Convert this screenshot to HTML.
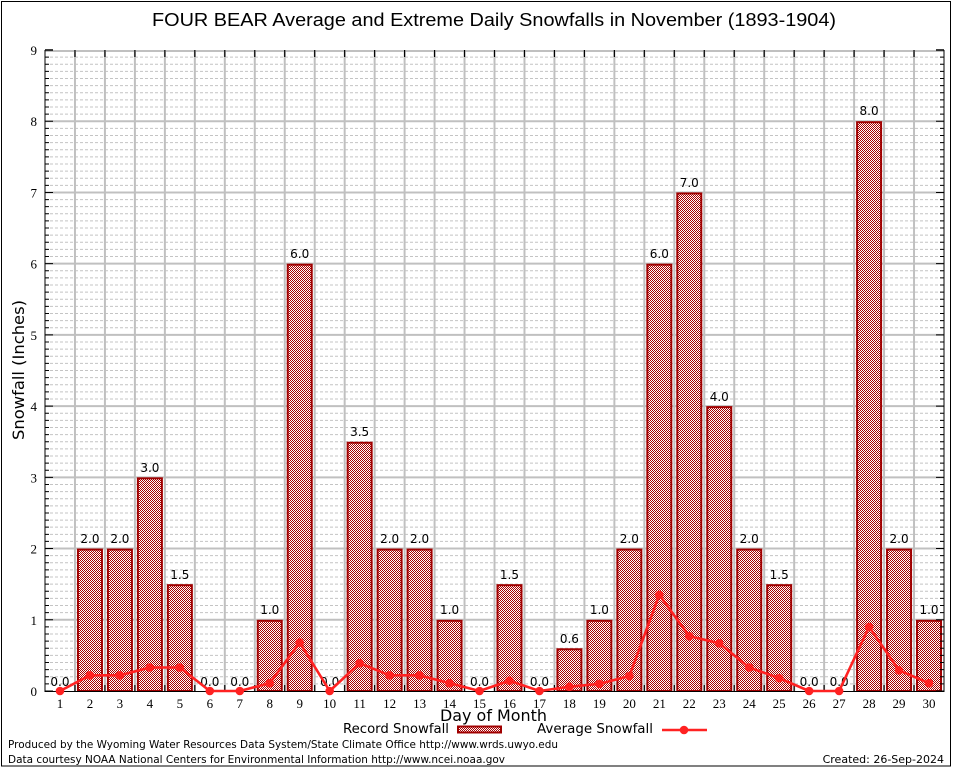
<!DOCTYPE html>
<html><head><meta charset="utf-8"><style>
html,body{margin:0;padding:0;background:#fff;}
svg{display:block;}
.v{font-family:"DejaVu Sans","Liberation Sans",sans-serif;font-size:12px;fill:#000;text-anchor:middle;}
.t{font-family:"Liberation Serif","DejaVu Serif",serif;font-size:13px;fill:#000;}
.s{font-family:"DejaVu Sans","Liberation Sans",sans-serif;fill:#000;}
</style></head><body>
<svg width="954" height="768" viewBox="0 0 954 768" xmlns="http://www.w3.org/2000/svg" shape-rendering="auto">
<defs>
<pattern id="chk" width="2" height="2" patternUnits="userSpaceOnUse">
<rect width="2" height="2" fill="#fff"/><rect width="1" height="1" fill="#a80000"/><rect x="1" y="1" width="1" height="1" fill="#a80000"/>
</pattern>
<g id="unit">
<path d="M45 683.88H944M45 676.76H944M45 669.63H944M45 662.51H944M45 655.39H944M45 648.27H944M45 641.14H944M45 634.02H944M45 626.9H944" stroke="#c4c4c4" stroke-width="1" stroke-dasharray="3 2" fill="none"/>
</g>
<g id="tk">
<path d="M45 683.88h4M45 676.76h4M45 669.63h4M45 662.51h4M45 655.39h4M45 648.27h4M45 641.14h4M45 634.02h4M45 626.9h4M944 683.88h-4M944 676.76h-4M944 669.63h-4M944 662.51h-4M944 655.39h-4M944 648.27h-4M944 641.14h-4M944 634.02h-4M944 626.9h-4M45 691h8M944 691h-8" stroke="#000" stroke-width="1" fill="none"/>
</g>
</defs>
<rect width="954" height="768" fill="#fff"/>
<rect x="1.5" y="1.5" width="949" height="764.5" fill="none" stroke="#000" stroke-width="1"/>

<text x="494" y="26" font-family="Liberation Sans, Arial, sans-serif" font-size="18.5" text-anchor="middle" textLength="684" lengthAdjust="spacingAndGlyphs">FOUR BEAR Average and Extreme Daily Snowfalls in November (1893-1904)</text>

<!-- minor grid -->
<use href="#unit" y="0"/><use href="#unit" y="-71.222"/><use href="#unit" y="-142.444"/><use href="#unit" y="-213.667"/><use href="#unit" y="-284.889"/><use href="#unit" y="-356.111"/><use href="#unit" y="-427.333"/><use href="#unit" y="-498.556"/><use href="#unit" y="-569.778"/>
<!-- major horizontal grid -->
<path d="M45 619.78H944M45 548.56H944M45 477.33H944M45 406.11H944M45 334.89H944M45 263.67H944M45 192.44H944M45 121.22H944M45 51H944" stroke="#c0c0c0" stroke-width="2" fill="none"/>
<!-- vertical grid -->
<path d="M74.97 50V691M104.93 50V691M134.9 50V691M164.87 50V691M194.83 50V691M224.8 50V691M254.77 50V691M284.73 50V691M314.7 50V691M344.67 50V691M374.63 50V691M404.6 50V691M434.57 50V691M464.53 50V691M494.5 50V691M524.47 50V691M554.43 50V691M584.4 50V691M614.37 50V691M644.33 50V691M674.3 50V691M704.27 50V691M734.23 50V691M764.2 50V691M794.17 50V691M824.13 50V691M854.1 50V691M884.07 50V691M914.03 50V691" stroke="#c0c0c0" stroke-width="2" fill="none"/>

<!-- bars -->
<g fill="url(#chk)" stroke="#a00000" stroke-width="2">
<rect x="77.95" y="549.56" width="24" height="141.44"/>
<rect x="107.92" y="549.56" width="24" height="141.44"/>
<rect x="137.88" y="478.33" width="24" height="212.67"/>
<rect x="167.85" y="585.17" width="24" height="105.83"/>
<rect x="257.75" y="620.78" width="24" height="70.22"/>
<rect x="287.72" y="264.67" width="24" height="426.33"/>
<rect x="347.65" y="442.72" width="24" height="248.28"/>
<rect x="377.62" y="549.56" width="24" height="141.44"/>
<rect x="407.58" y="549.56" width="24" height="141.44"/>
<rect x="437.55" y="620.78" width="24" height="70.22"/>
<rect x="497.48" y="585.17" width="24" height="105.83"/>
<rect x="557.42" y="649.27" width="24" height="41.73"/>
<rect x="587.38" y="620.78" width="24" height="70.22"/>
<rect x="617.35" y="549.56" width="24" height="141.44"/>
<rect x="647.32" y="264.67" width="24" height="426.33"/>
<rect x="677.28" y="193.44" width="24" height="497.56"/>
<rect x="707.25" y="407.11" width="24" height="283.89"/>
<rect x="737.22" y="549.56" width="24" height="141.44"/>
<rect x="767.18" y="585.17" width="24" height="105.83"/>
<rect x="857.08" y="122.22" width="24" height="568.78"/>
<rect x="887.05" y="549.56" width="24" height="141.44"/>
<rect x="917.02" y="620.78" width="24" height="70.22"/>
</g>

<!-- axes frame -->
<path d="M45 50V691.5H944V50" stroke="#000" stroke-width="1" fill="none"/>
<use href="#tk" y="0"/><use href="#tk" y="-71.222"/><use href="#tk" y="-142.444"/><use href="#tk" y="-213.667"/><use href="#tk" y="-284.889"/><use href="#tk" y="-356.111"/><use href="#tk" y="-427.333"/><use href="#tk" y="-498.556"/><use href="#tk" y="-569.778"/>
<path d="M45 50h8M944 50h-8" stroke="#000" stroke-width="1.5"/>
<!-- top and bottom ticks -->
<path d="M74.97 50v7M104.93 50v7M134.9 50v7M164.87 50v7M194.83 50v7M224.8 50v7M254.77 50v7M284.73 50v7M314.7 50v7M344.67 50v7M374.63 50v7M404.6 50v7M434.57 50v7M464.53 50v7M494.5 50v7M524.47 50v7M554.43 50v7M584.4 50v7M614.37 50v7M644.33 50v7M674.3 50v7M704.27 50v7M734.23 50v7M764.2 50v7M794.17 50v7M824.13 50v7M854.1 50v7M884.07 50v7M914.03 50v7M74.97 691v-6M104.93 691v-6M134.9 691v-6M164.87 691v-6M194.83 691v-6M224.8 691v-6M254.77 691v-6M284.73 691v-6M314.7 691v-6M344.67 691v-6M374.63 691v-6M404.6 691v-6M434.57 691v-6M464.53 691v-6M494.5 691v-6M524.47 691v-6M554.43 691v-6M584.4 691v-6M614.37 691v-6M644.33 691v-6M674.3 691v-6M704.27 691v-6M734.23 691v-6M764.2 691v-6M794.17 691v-6M824.13 691v-6M854.1 691v-6M884.07 691v-6M914.03 691v-6" stroke="#000" stroke-width="1.2" fill="none"/>

<!-- value labels -->
<g class="v">
<text x="59.98" y="686">0.0</text>
<text x="89.95" y="543">2.0</text>
<text x="119.92" y="543">2.0</text>
<text x="149.88" y="472">3.0</text>
<text x="179.85" y="579">1.5</text>
<text x="209.82" y="686">0.0</text>
<text x="239.78" y="686">0.0</text>
<text x="269.75" y="614">1.0</text>
<text x="299.72" y="258">6.0</text>
<text x="329.68" y="686">0.0</text>
<text x="359.65" y="436">3.5</text>
<text x="389.62" y="543">2.0</text>
<text x="419.58" y="543">2.0</text>
<text x="449.55" y="614">1.0</text>
<text x="479.52" y="686">0.0</text>
<text x="509.48" y="579">1.5</text>
<text x="539.45" y="686">0.0</text>
<text x="569.42" y="643">0.6</text>
<text x="599.38" y="614">1.0</text>
<text x="629.35" y="543">2.0</text>
<text x="659.32" y="258">6.0</text>
<text x="689.28" y="187">7.0</text>
<text x="719.25" y="401">4.0</text>
<text x="749.22" y="543">2.0</text>
<text x="779.18" y="579">1.5</text>
<text x="809.15" y="686">0.0</text>
<text x="839.12" y="686">0.0</text>
<text x="869.08" y="115">8.0</text>
<text x="899.05" y="543">2.0</text>
<text x="929.02" y="614">1.0</text>
</g>

<!-- average line -->
<polyline fill="none" stroke="#ff2222" stroke-width="2.6" stroke-linejoin="round" points="59.98,691 89.95,675.33 119.92,675.33 149.88,667.5 179.85,667.5 209.82,691 239.78,691 269.75,683.17 299.72,642.57 329.68,691 359.65,663.22 389.62,675.33 419.58,675.33 449.55,683.17 479.52,691 509.48,680.67 539.45,691 569.42,686.73 599.38,683.88 629.35,676.04 659.32,594.85 689.28,636.16 719.25,643.28 749.22,667.5 779.18,678.18 809.15,691 839.12,691 869.08,626.9 899.05,670.35 929.02,683.17"/>
<g fill="#ff2222">
<circle cx="59.98" cy="691" r="4.3"/><circle cx="89.95" cy="675.33" r="4.3"/><circle cx="119.92" cy="675.33" r="4.3"/><circle cx="149.88" cy="667.5" r="4.3"/><circle cx="179.85" cy="667.5" r="4.3"/><circle cx="209.82" cy="691" r="4.3"/><circle cx="239.78" cy="691" r="4.3"/><circle cx="269.75" cy="683.17" r="4.3"/><circle cx="299.72" cy="642.57" r="4.3"/><circle cx="329.68" cy="691" r="4.3"/><circle cx="359.65" cy="663.22" r="4.3"/><circle cx="389.62" cy="675.33" r="4.3"/><circle cx="419.58" cy="675.33" r="4.3"/><circle cx="449.55" cy="683.17" r="4.3"/><circle cx="479.52" cy="691" r="4.3"/><circle cx="509.48" cy="680.67" r="4.3"/><circle cx="539.45" cy="691" r="4.3"/><circle cx="569.42" cy="686.73" r="4.3"/><circle cx="599.38" cy="683.88" r="4.3"/><circle cx="629.35" cy="676.04" r="4.3"/><circle cx="659.32" cy="594.85" r="4.3"/><circle cx="689.28" cy="636.16" r="4.3"/><circle cx="719.25" cy="643.28" r="4.3"/><circle cx="749.22" cy="667.5" r="4.3"/><circle cx="779.18" cy="678.18" r="4.3"/><circle cx="809.15" cy="691" r="4.3"/><circle cx="839.12" cy="691" r="4.3"/><circle cx="869.08" cy="626.9" r="4.3"/><circle cx="899.05" cy="670.35" r="4.3"/><circle cx="929.02" cy="683.17" r="4.3"/>
</g>

<!-- y tick labels -->
<g class="t" text-anchor="end">
<text x="37" y="696">0</text>
<text x="37" y="624.8">1</text>
<text x="37" y="553.6">2</text>
<text x="37" y="482.3">3</text>
<text x="37" y="411.1">4</text>
<text x="37" y="339.9">5</text>
<text x="37" y="268.7">6</text>
<text x="37" y="197.4">7</text>
<text x="37" y="126.2">8</text>
<text x="37" y="55">9</text>
</g>
<!-- x tick labels -->
<g class="t" text-anchor="middle">
<text x="59.98" y="708">1</text><text x="89.95" y="708">2</text><text x="119.92" y="708">3</text><text x="149.88" y="708">4</text><text x="179.85" y="708">5</text><text x="209.82" y="708">6</text><text x="239.78" y="708">7</text><text x="269.75" y="708">8</text><text x="299.72" y="708">9</text><text x="329.68" y="708">10</text><text x="359.65" y="708">11</text><text x="389.62" y="708">12</text><text x="419.58" y="708">13</text><text x="449.55" y="708">14</text><text x="479.52" y="708">15</text><text x="509.48" y="708">16</text><text x="539.45" y="708">17</text><text x="569.42" y="708">18</text><text x="599.38" y="708">19</text><text x="629.35" y="708">20</text><text x="659.32" y="708">21</text><text x="689.28" y="708">22</text><text x="719.25" y="708">23</text><text x="749.22" y="708">24</text><text x="779.18" y="708">25</text><text x="809.15" y="708">26</text><text x="839.12" y="708">27</text><text x="869.08" y="708">28</text><text x="899.05" y="708">29</text><text x="929.02" y="708">30</text>
</g>

<!-- axis titles -->
<text class="s" x="440" y="721" font-size="16" textLength="107" lengthAdjust="spacingAndGlyphs">Day of Month</text>
<text class="s" font-size="16" text-anchor="middle" transform="translate(24,370) rotate(-90)" textLength="140" lengthAdjust="spacingAndGlyphs">Snowfall (Inches)</text>

<!-- legend -->
<text class="s" x="343" y="733" font-size="13" textLength="106" lengthAdjust="spacingAndGlyphs">Record Snowfall</text>
<rect x="458" y="726.5" width="43" height="6" fill="url(#chk)" stroke="#a00000" stroke-width="2"/>
<text class="s" x="537" y="733" font-size="13" textLength="116" lengthAdjust="spacingAndGlyphs">Average Snowfall</text>
<path d="M662 730H707" stroke="#ff2222" stroke-width="2.6"/>
<circle cx="684" cy="730" r="4.3" fill="#ff2222"/>

<!-- footer -->
<text class="s" x="8" y="748" font-size="11" textLength="550" lengthAdjust="spacingAndGlyphs">Produced by the Wyoming Water Resources Data System/State Climate Office http://www.wrds.uwyo.edu</text>
<text class="s" x="8" y="763" font-size="11" textLength="497" lengthAdjust="spacingAndGlyphs">Data courtesy NOAA National Centers for Environmental Information http://www.ncei.noaa.gov</text>
<text class="s" x="944" y="763" font-size="11" text-anchor="end">Created: 26-Sep-2024</text>
</svg>
</body></html>
